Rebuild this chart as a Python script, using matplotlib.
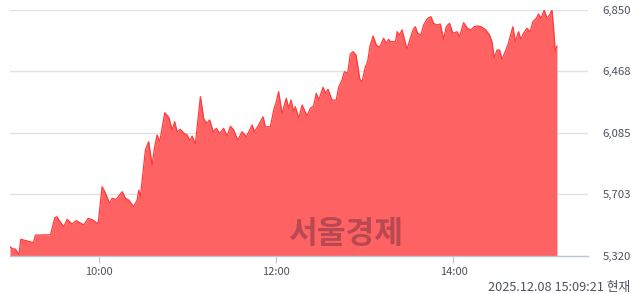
import matplotlib
matplotlib.use('Agg')
import matplotlib.pyplot as plt

# minutes after 09:00 and price
minutes = [0, 1.7, 3.7, 6, 7.3, 15.9, 17.2, 27.4, 30.3, 31.9, 33, 36.4, 38.6, 42, 44.8,
           49.9, 52.9, 56, 59.6, 62.3, 64.6, 67.3, 69.1, 71.8, 75.9, 78.1, 80.3, 83.7,
           86, 87.1, 88.2, 91.6, 93.8, 96.1, 97.7, 99.5, 101.3, 104.7, 107.4, 109.7,
           111.4, 113, 115.3, 117.5, 119.8, 121.6, 123.2, 125.4, 128.8, 131, 132.9,
           135.1, 137.4, 139.6, 141.8, 144.5, 146.9, 149.1, 151.3, 154, 157, 159.9,
           163.8, 165.3, 167.5, 171.2, 172.7, 176.1, 178.4, 180.2, 181.7, 184, 186.9,
           188.5, 190.1, 191.9, 193, 195.3, 197.6, 199.1, 200.9, 203.2, 205.4, 207.2,
           208.8, 211.8, 213.3, 215.1, 217.8, 220.7, 222.3, 224.6, 226.2, 228.4, 230.2,
           232, 234.1, 236.5, 238.1, 240.4, 241.9, 243.7, 245.6, 247.8, 250, 252.7,
           254.6, 256.1, 257.4, 260.8, 261.9, 263.5, 265.2, 268.5, 270.8, 272.6, 274.2,
           275.7, 278, 279.8, 282.5, 284.8, 286.5, 288.8, 291.1, 293.3, 295.1, 297.3,
           299.6, 302.4, 304.1, 306.8, 309.5, 311.8, 314, 316.3, 318.6, 321.5, 324.4,
           326, 327.6, 329.4, 331.2, 332.8, 335, 337.2, 338.9, 340.2, 341.8, 344, 345.6,
           347.4, 349.7, 351.9, 353.7, 356, 357.5, 359.1, 361.4, 363.2, 365, 366.6,
           367.7, 368.8, 370]
prices = [5378, 5365, 5363, 5326, 5424, 5403, 5450, 5452, 5558, 5564, 5544, 5502, 5548,
          5519, 5540, 5513, 5554, 5544, 5519, 5751, 5710, 5648, 5679, 5672, 5720, 5679,
          5668, 5627, 5668, 5730, 5689, 5979, 6031, 5886, 5990, 6073, 6031, 6211, 6182,
          6104, 6155, 6093, 6108, 6083, 6073, 6037, 6066, 6017, 6311, 6176, 6145, 6166,
          6093, 6114, 6083, 6114, 6066, 6127, 6104, 6041, 6093, 6062, 6135, 6093, 6124,
          6186, 6124, 6124, 6228, 6280, 6342, 6207, 6301, 6239, 6290, 6217, 6249, 6176,
          6259, 6228, 6191, 6239, 6253, 6332, 6290, 6369, 6332, 6357, 6290, 6290, 6369,
          6415, 6466, 6456, 6576, 6591, 6570, 6425, 6400, 6497, 6528, 6632, 6688, 6632,
          6618, 6674, 6643, 6668, 6653, 6653, 6715, 6694, 6726, 6606, 6674, 6726, 6746,
          6705, 6694, 6757, 6798, 6808, 6767, 6757, 6763, 6668, 6746, 6767, 6705, 6715,
          6684, 6771, 6736, 6726, 6746, 6751, 6746, 6730, 6694, 6653, 6550, 6601, 6601,
          6543, 6591, 6643, 6705, 6746, 6653, 6715, 6668, 6705, 6736, 6715, 6777, 6798,
          6825, 6798, 6850, 6798, 6819, 6850, 6740, 6591, 6626]

y_ticks = [5320, 5703, 6085, 6468, 6850]
x_ticks = [60, 180, 300]
x_labels = ['10:00', '12:00', '14:00']
stamp = '2025.12.08 15:09:21 현재'

plt.rcParams['font.family'] = ['Noto Sans CJK KR', 'DejaVu Sans']

fig = plt.figure(figsize=(6.4, 2.94), dpi=100)
ax = fig.add_axes([10 / 640, 38 / 294, 578 / 640, 246 / 294])

ax.fill_between(minutes, prices, 5320, color='#ff6262', linewidth=0, zorder=2)
ax.plot(minutes, prices, color='#ff3a3a', linewidth=0.9, zorder=3)

ax.set_xlim(0, 391)
ax.set_ylim(5320, 6850)

ax.set_yticks(y_ticks)
ax.set_yticklabels([f'{v:,}' for v in y_ticks])
ax.yaxis.tick_right()
ax.tick_params(axis='y', length=0, pad=10.5, labelsize=8.2, labelcolor='#4d5260')
ax.set_xticks(x_ticks)
ax.set_xticklabels(x_labels)
ax.tick_params(axis='x', length=5, width=0.8, color='#b8c6de', pad=3,
               labelsize=8, labelcolor='#4d5260')

ax.grid(axis='y', color='#e2e2e2', linewidth=1, zorder=1)
ax.set_axisbelow(True)
for side in ['top', 'right', 'left']:
    ax.spines[side].set_visible(False)
ax.spines['bottom'].set_color('#b8c6de')
ax.spines['bottom'].set_linewidth(1)
ax.spines['bottom'].set_zorder(4)

ax.text(0.580, 0.088, '서울경제', transform=ax.transAxes, ha='center', va='center',
        fontsize=22.5, fontweight='bold', color='#7e3444', alpha=0.55, zorder=5)

fig.text(630 / 640, 1 - 287 / 294, stamp, ha='right', va='center',
         fontsize=9.2, color='#4d5260')

fig.savefig('out.png', dpi=100)
